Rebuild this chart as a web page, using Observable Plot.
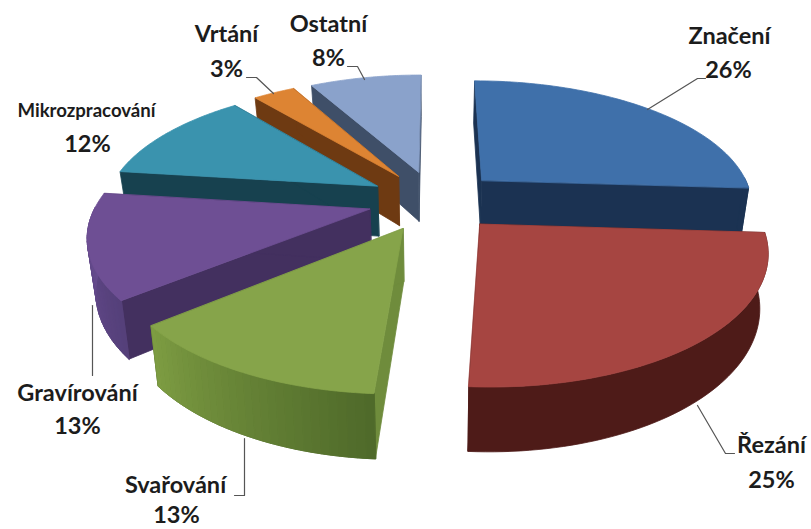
<!DOCTYPE html>
<html lang="cs">
<head>
<meta charset="utf-8">
<script src="https://cdn.jsdelivr.net/npm/d3@7"></script>
<script src="https://cdn.jsdelivr.net/npm/@observablehq/plot@0.6"></script>
<style>
  html, body { margin: 0; padding: 0; background: #fff; }
  svg { display: block; }
</style>
</head>
<body>
<div id="chart"></div>
<script>
// Shares of laser applications, clockwise from twelve o'clock
const names = ["Značení", "Řezání", "Svařování", "Gravírování", "Mikrozpracování", "Vrtání", "Ostatní"];
const shares = [26, 25, 13, 13, 12, 3, 8];

// Slice colours: top face, cut walls, rim shading from one end to the other
const topColors = ["#3f70aa", "#a64541", "#86a44a", "#6e4f94", "#3a93ae", "#dd8433", "#8aa2cb"];
const cutColors = ["#1b3252", "#4a1a17", "#6f8c3c", "#43305f", "#17414f", "#6e3a12", "#3f4f68"];
const rimFrom = ["#1b3252", "#4e1b18", "#4f6a2a", "#55407a", "#17414f", "#6e3a12", "#3f4f68"];
const rimTo = ["#1b3252", "#4e1b18", "#7d9c42", "#6a4e92", "#17414f", "#6e3a12", "#3f4f68"];

// Painter's order, far slices first
const drawOrder = [6, 5, 4, 0, 3, 2, 1];

// Projection of the tilted pie
const centre = [434, 200];
const radiusX = 272;
const radiusY = 124;
const perspective = 0.18;
const thickness = 51;
const floorShrink = 0.975;
const explode = 0.245;

const project = (wx, wy, lowered) => {
  const w = 1 / (1 + perspective * wy);
  const shrink = lowered ? floorShrink : 1;
  return [
    centre[0] + radiusX * wx * w * shrink,
    centre[1] - radiusY * wy * w + (lowered ? thickness * w : 0)
  ];
};

const faces = [];
const addFace = (id, fill, corners) => {
  for (const [x, y] of corners) faces.push({id, fill, x, y});
};

const total = d3.sum(shares);
const starts = d3.cumsum([0, ...shares]).map((s) => (s / total) * 2 * Math.PI);

for (const i of drawOrder) {
  const a0 = starts[i];
  const a1 = starts[i + 1];
  const mid = (a0 + a1) / 2;
  const ox = explode * Math.sin(mid);
  const oy = explode * Math.cos(mid);
  const rim = (a, low) => project(ox + Math.sin(a), oy + Math.cos(a), low);
  const hub = (low) => project(ox, oy, low);
  const angles = d3.range(0, 61).map((k) => a0 + ((a1 - a0) * k) / 60);
  const front = angles.filter((a) => Math.cos(a) < 0.02);

  // Cut walls, then the shaded rim, then the top face over them
  addFace(`${i}-cut0`, cutColors[i], [hub(false), rim(a0, false), rim(a0, true), hub(true)]);
  addFace(`${i}-cut1`, cutColors[i], [hub(false), rim(a1, false), rim(a1, true), hub(true)]);
  if (front.length > 1) {
    addFace(`${i}-rim`, rimFrom[i], [
      ...front.map((a) => rim(a, false)),
      ...[...front].reverse().map((a) => rim(a, true))
    ]);
    if (rimFrom[i] !== rimTo[i]) {
      const shade = d3.interpolateRgb(rimFrom[i], rimTo[i]);
      const bandCount = 30;
      const bands = d3.range(0, bandCount + 1).map((k) => front[Math.round((k * (front.length - 1)) / bandCount)]);
      d3.pairs(bands).forEach(([p, q], k) => {
        addFace(`${i}-band${k}`, d3.color(shade(k / (bandCount - 1))).formatHex(),
          [rim(p, false), rim(q, false), rim(q, true), rim(p, true)]);
      });
    }
  }
  addFace(`${i}-top`, topColors[i], [hub(false), ...angles.map((a) => rim(a, false))]);
}

// Label placement: name line, percentage line
const nameAt = [[729, 36], [771, 445], [175, 485], [77, 393], [86, 111], [226, 34], [328, 24]];
const shareAt = [[728, 70], [771, 480], [176, 515], [77, 426], [87, 144], [226, 69], [328, 58]];
const nameSize = [23.5, 23.5, 23.5, 23.5, 18.6, 23.5, 23.5];

const nameLabels = names.map((text, i) => ({text, x: nameAt[i][0], y: nameAt[i][1], size: nameSize[i]}));
const shareLabels = shares.map((s, i) => ({text: `${s}%`, x: shareAt[i][0], y: shareAt[i][1]}));

// Leader lines from rim to label
const leaders = [
  [[647, 109], [697, 78], [705, 78]],
  [[697, 405], [725, 453], [734, 453]],
  [[244, 438], [244, 495], [234, 495]],
  [[92, 305], [92, 375]],
  [[246, 77], [256, 77], [273, 93]],
  [[347, 66], [357, 66], [364, 79]]
].flatMap((pts, id) => pts.map(([x, y]) => ({id, x, y})));

const chart = Plot.plot({
  width: 811,
  height: 529,
  margin: 0,
  style: {background: "#fff"},
  x: {domain: [0, 811], range: [0, 811], axis: null},
  y: {domain: [0, 529], range: [0, 529], axis: null},
  color: {type: "identity"},
  marks: [
    Plot.line(faces, {x: "x", y: "y", z: "id", fill: "fill", stroke: "fill", strokeWidth: 0.8, curve: "linear-closed"}),
    Plot.line(leaders, {x: "x", y: "y", z: "id", stroke: "#555", strokeWidth: 1.2}),
    Plot.text(nameLabels, {x: "x", y: "y", text: "text", fontSize: "size", fontWeight: 700, fontFamily: "Lato", fill: "#1c1c1c"}),
    Plot.text(shareLabels, {x: "x", y: "y", text: "text", fontSize: 23.5, fontWeight: 700, fontFamily: "Lato", fill: "#1c1c1c"})
  ]
});
document.getElementById("chart").append(chart);
</script>
</body>
</html>
